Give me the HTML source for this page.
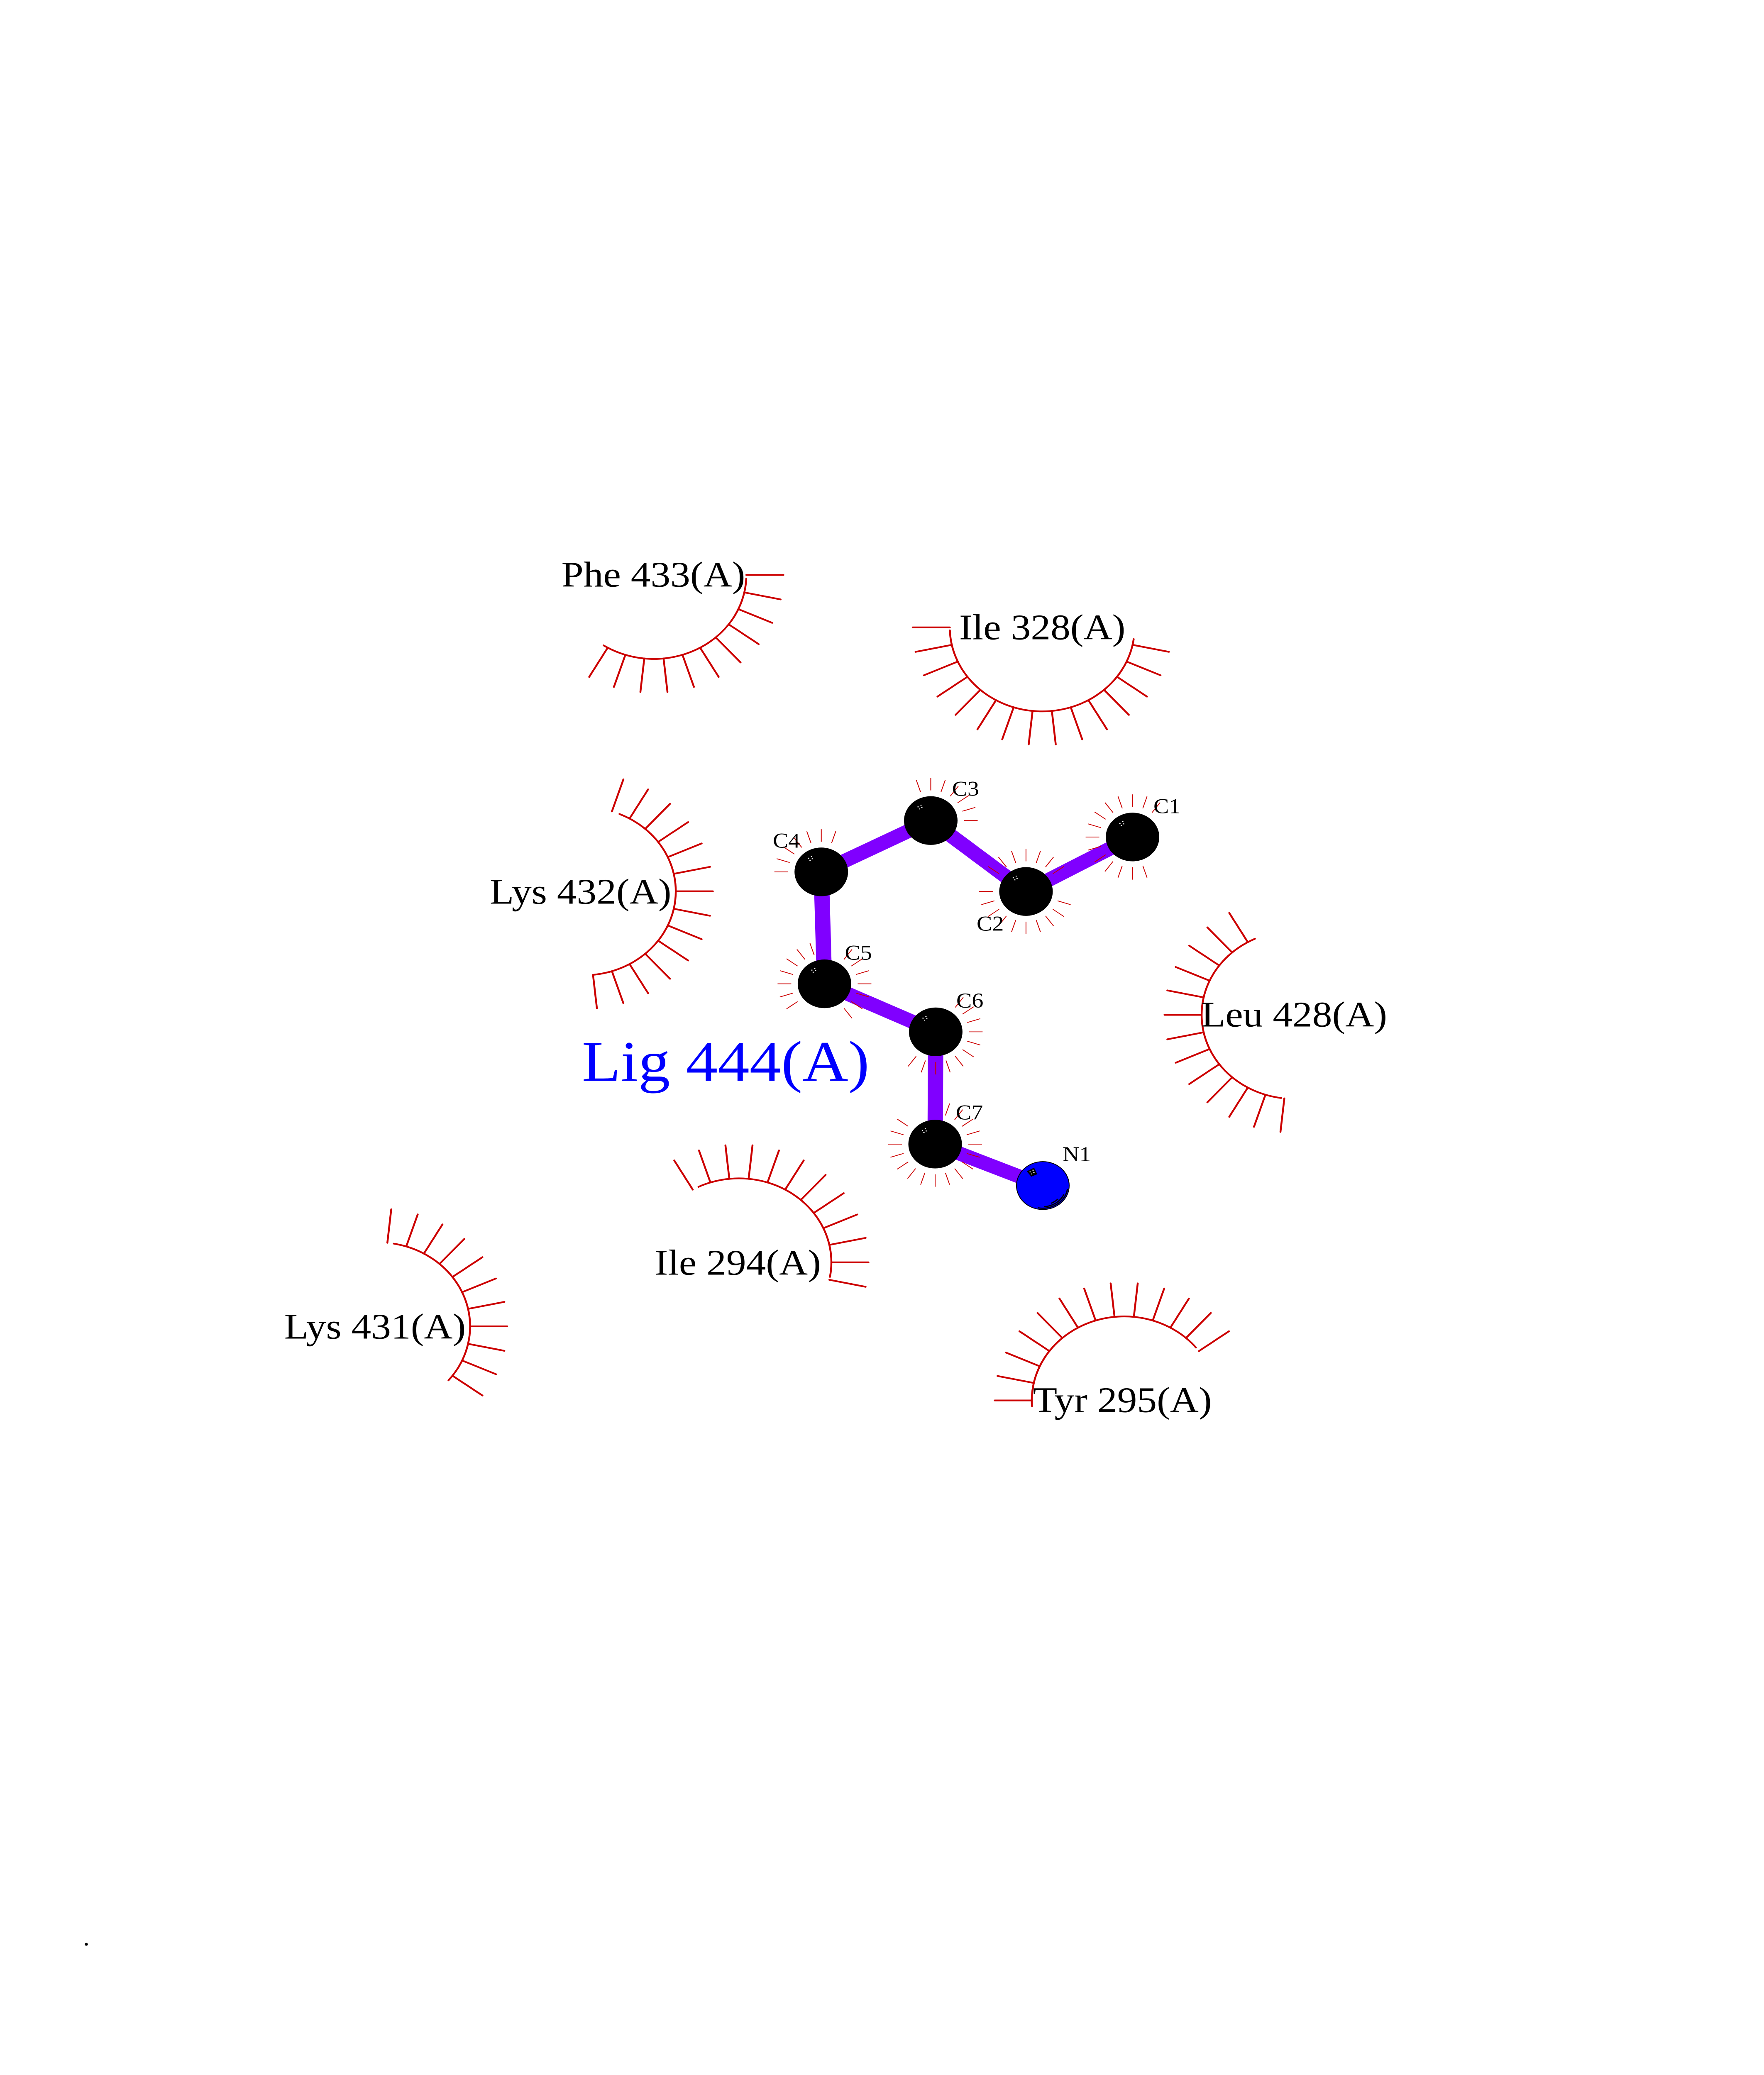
<!DOCTYPE html>
<html>
<head>
<meta charset="utf-8">
<title>Lig 444(A)</title>
<style>
html,body{margin:0;padding:0;background:#fff;height:100%;overflow:hidden}
svg{display:block;position:fixed;left:0;top:0;width:100vw;height:100vh;overflow:hidden}
text{font-family:"Liberation Serif",serif;fill:#000}
.res{font-size:95.5px}
.atm{font-size:56px}
.s{stroke:#cc0000;stroke-width:4.5;stroke-linecap:round;fill:none}
.r{stroke:#cc0000;stroke-width:2;fill:none}
</style>
</head>
<body>
<svg xmlns="http://www.w3.org/2000/svg" viewBox="0 0 4250 5500" preserveAspectRatio="none">
<defs>
<path id="sp" d="M222.6 0H312"/>
<path id="ry" d="M80 0H113"/>
<g id="dots" fill="#fff"><rect x="-32" y="-37.5" width="3" height="2.4"/><rect x="-25" y="-42" width="3" height="2.4"/><rect x="-23" y="-36" width="3" height="2.4"/><rect x="-28.5" y="-32" width="3" height="2.4"/></g>
</defs>

<!-- bonds -->
<g stroke="#8000ff" stroke-width="37" fill="none">
<path d="M2728.6 2218.6L2471.9 2363L2242.5 2175L1978.7 2311L1986.4 2607.7L2254.4 2735L2253 3032.6L2512.5 3142.5" stroke-linejoin="bevel"/>
</g>

<!-- residue arcs -->
<g class="s">
<path d="M1492.5 2157.6A222.6 222.6 0 0 1 1428.8 2583.9"/>
<g transform="translate(1405.5 2362.5)"><use href="#sp" transform="rotate(-72)"/><use href="#sp" transform="rotate(-60)"/><use href="#sp" transform="rotate(-48)"/><use href="#sp" transform="rotate(-36)"/><use href="#sp" transform="rotate(-24)"/><use href="#sp" transform="rotate(-12)"/><use href="#sp"/><use href="#sp" transform="rotate(12)"/><use href="#sp" transform="rotate(24)"/><use href="#sp" transform="rotate(36)"/><use href="#sp" transform="rotate(48)"/><use href="#sp" transform="rotate(60)"/><use href="#sp" transform="rotate(72)"/><use href="#sp" transform="rotate(84)"/></g>

<path d="M3086.6 2910.4A222.6 222.6 0 0 1 3023.5 2488.3"/>
<g transform="translate(3117.6 2690)"><use href="#sp" transform="rotate(96)"/><use href="#sp" transform="rotate(108)"/><use href="#sp" transform="rotate(120)"/><use href="#sp" transform="rotate(132)"/><use href="#sp" transform="rotate(144)"/><use href="#sp" transform="rotate(156)"/><use href="#sp" transform="rotate(168)"/><use href="#sp" transform="rotate(180)"/><use href="#sp" transform="rotate(192)"/><use href="#sp" transform="rotate(204)"/><use href="#sp" transform="rotate(216)"/><use href="#sp" transform="rotate(228)"/><use href="#sp" transform="rotate(240)"/></g>

<path d="M1797.9 1533.7A222.6 222.6 0 0 1 1454.3 1710.7"/>
<g transform="translate(1575.5 1524)"><use href="#sp"/><use href="#sp" transform="rotate(12)"/><use href="#sp" transform="rotate(24)"/><use href="#sp" transform="rotate(36)"/><use href="#sp" transform="rotate(48)"/><use href="#sp" transform="rotate(60)"/><use href="#sp" transform="rotate(72)"/><use href="#sp" transform="rotate(84)"/><use href="#sp" transform="rotate(96)"/><use href="#sp" transform="rotate(108)"/><use href="#sp" transform="rotate(120)"/></g>

<path d="M2731.4 1694A222.6 222.6 0 0 1 2288.5 1670.8"/>
<g transform="translate(2511 1663)"><use href="#sp" transform="rotate(12)"/><use href="#sp" transform="rotate(24)"/><use href="#sp" transform="rotate(36)"/><use href="#sp" transform="rotate(48)"/><use href="#sp" transform="rotate(60)"/><use href="#sp" transform="rotate(72)"/><use href="#sp" transform="rotate(84)"/><use href="#sp" transform="rotate(96)"/><use href="#sp" transform="rotate(108)"/><use href="#sp" transform="rotate(120)"/><use href="#sp" transform="rotate(132)"/><use href="#sp" transform="rotate(144)"/><use href="#sp" transform="rotate(156)"/><use href="#sp" transform="rotate(168)"/><use href="#sp" transform="rotate(180)"/></g>

<path d="M948.7 3296.4A222.6 222.6 0 0 1 1080.5 3658.7"/>
<g transform="translate(910 3515.6)"><use href="#sp" transform="rotate(-84)"/><use href="#sp" transform="rotate(-72)"/><use href="#sp" transform="rotate(-60)"/><use href="#sp" transform="rotate(-48)"/><use href="#sp" transform="rotate(-36)"/><use href="#sp" transform="rotate(-24)"/><use href="#sp" transform="rotate(-12)"/><use href="#sp"/><use href="#sp" transform="rotate(12)"/><use href="#sp" transform="rotate(24)"/><use href="#sp" transform="rotate(36)"/></g>

<path d="M1682.8 3145.9A222.6 222.6 0 0 1 1999.6 3384.7"/>
<g transform="translate(1780.4 3346)"><use href="#sp" transform="rotate(-120)"/><use href="#sp" transform="rotate(-108)"/><use href="#sp" transform="rotate(-96)"/><use href="#sp" transform="rotate(-84)"/><use href="#sp" transform="rotate(-72)"/><use href="#sp" transform="rotate(-60)"/><use href="#sp" transform="rotate(-48)"/><use href="#sp" transform="rotate(-36)"/><use href="#sp" transform="rotate(-24)"/><use href="#sp" transform="rotate(-12)"/><use href="#sp"/><use href="#sp" transform="rotate(12)"/></g>

<path d="M2486.4 3727.5A222.6 222.6 0 0 1 2881.5 3571.9"/>
<g transform="translate(2708.5 3712)"><use href="#sp" transform="rotate(180)"/><use href="#sp" transform="rotate(192)"/><use href="#sp" transform="rotate(204)"/><use href="#sp" transform="rotate(216)"/><use href="#sp" transform="rotate(228)"/><use href="#sp" transform="rotate(240)"/><use href="#sp" transform="rotate(252)"/><use href="#sp" transform="rotate(264)"/><use href="#sp" transform="rotate(276)"/><use href="#sp" transform="rotate(288)"/><use href="#sp" transform="rotate(300)"/><use href="#sp" transform="rotate(312)"/><use href="#sp" transform="rotate(324)"/></g>
</g>

<!-- atom hydrophobic rays -->
<g class="r">
<g transform="translate(2242.5 2175)"><use href="#ry"/><use href="#ry" transform="rotate(-18)"/><use href="#ry" transform="rotate(-36)"/><use href="#ry" transform="rotate(-54)"/><use href="#ry" transform="rotate(-72)"/><use href="#ry" transform="rotate(-90)"/><use href="#ry" transform="rotate(-108)"/></g>

<g transform="translate(2728.6 2218.6)"><use href="#ry" transform="rotate(-54)"/><use href="#ry" transform="rotate(-72)"/><use href="#ry" transform="rotate(-90)"/><use href="#ry" transform="rotate(-108)"/><use href="#ry" transform="rotate(-126)"/><use href="#ry" transform="rotate(-144)"/><use href="#ry" transform="rotate(-162)"/><use href="#ry" transform="rotate(-180)"/><use href="#ry" transform="rotate(-198)"/><use href="#ry" transform="rotate(-216)"/><use href="#ry" transform="rotate(-234)"/><use href="#ry" transform="rotate(-252)"/><use href="#ry" transform="rotate(-270)"/><use href="#ry" transform="rotate(-288)"/></g>

<g transform="translate(2471.9 2363)"><use href="#ry" transform="rotate(-36)"/><use href="#ry" transform="rotate(-54)"/><use href="#ry" transform="rotate(-72)"/><use href="#ry" transform="rotate(-90)"/><use href="#ry" transform="rotate(-108)"/><use href="#ry" transform="rotate(-126)"/><use href="#ry" transform="rotate(-144)"/><use href="#ry" transform="rotate(-180)"/><use href="#ry" transform="rotate(-198)"/><use href="#ry" transform="rotate(-216)"/><use href="#ry" transform="rotate(-234)"/><use href="#ry" transform="rotate(-252)"/><use href="#ry" transform="rotate(-270)"/><use href="#ry" transform="rotate(-288)"/><use href="#ry" transform="rotate(-306)"/><use href="#ry" transform="rotate(-324)"/><use href="#ry" transform="rotate(-342)"/></g>

<g transform="translate(1978.7 2311)"><use href="#ry" transform="rotate(-72)"/><use href="#ry" transform="rotate(-90)"/><use href="#ry" transform="rotate(-108)"/><use href="#ry" transform="rotate(-126)"/><use href="#ry" transform="rotate(-144)"/><use href="#ry" transform="rotate(-162)"/><use href="#ry" transform="rotate(-180)"/></g>

<g transform="translate(1986.4 2607.7)"><use href="#ry" transform="rotate(-108)"/><use href="#ry" transform="rotate(-126)"/><use href="#ry" transform="rotate(-144)"/><use href="#ry" transform="rotate(-162)"/><use href="#ry" transform="rotate(-180)"/><use href="#ry" transform="rotate(-198)"/><use href="#ry" transform="rotate(-216)"/><use href="#ry" transform="rotate(54)"/><use href="#ry" transform="rotate(36)"/><use href="#ry" transform="rotate(18)"/><use href="#ry"/><use href="#ry" transform="rotate(-18)"/><use href="#ry" transform="rotate(-36)"/><use href="#ry" transform="rotate(-54)"/></g>

<g transform="translate(2254.4 2735)"><use href="#ry" transform="rotate(126)"/><use href="#ry" transform="rotate(108)"/><use href="#ry" transform="rotate(90)"/><use href="#ry" transform="rotate(72)"/><use href="#ry" transform="rotate(54)"/><use href="#ry" transform="rotate(36)"/><use href="#ry" transform="rotate(18)"/><use href="#ry"/><use href="#ry" transform="rotate(-18)"/><use href="#ry" transform="rotate(-36)"/><use href="#ry" transform="rotate(-54)"/></g>

<g transform="translate(2253 3032.6)"><use href="#ry" transform="rotate(-144)"/><use href="#ry" transform="rotate(-162)"/><use href="#ry" transform="rotate(-180)"/><use href="#ry" transform="rotate(-198)"/><use href="#ry" transform="rotate(-216)"/><use href="#ry" transform="rotate(-234)"/><use href="#ry" transform="rotate(-252)"/><use href="#ry" transform="rotate(-270)"/><use href="#ry" transform="rotate(-288)"/><use href="#ry" transform="rotate(-306)"/><use href="#ry" transform="rotate(-324)"/><use href="#ry" transform="rotate(-342)"/><use href="#ry"/><use href="#ry" transform="rotate(-18)"/><use href="#ry" transform="rotate(-36)"/><use href="#ry" transform="rotate(-54)"/><use href="#ry" transform="rotate(-72)"/></g>
</g>

<!-- atoms -->
<g fill="#000">
<circle cx="2728.6" cy="2218.6" r="64.5"/>
<circle cx="2471.9" cy="2363" r="64.5"/>
<circle cx="2242.5" cy="2175" r="64.5"/>
<circle cx="1978.7" cy="2311" r="64.5"/>
<circle cx="1986.4" cy="2607.7" r="64.5"/>
<circle cx="2254.4" cy="2735" r="64.5"/>
<circle cx="2253" cy="3032.6" r="64.5"/>
</g>
<circle cx="2512.5" cy="3142.5" r="63.5" fill="#0000ff" stroke="#000" stroke-width="2"/>
<path d="M2571.6 3153A60 60 0 0 1 2502 3201.6" fill="none" stroke="#000" stroke-width="3" stroke-linecap="round"/>
<path d="M2562.7 3166.8A56 56 0 0 1 2516.7 3198.4" fill="none" stroke="#000" stroke-width="3" stroke-linecap="round"/>
<path d="M2548.2 3178.9A51 51 0 0 1 2533.3 3189" fill="none" stroke="#000" stroke-width="3" stroke-linecap="round"/>
<path d="M2475 3105L2491 3096L2498 3112L2485 3118Z" fill="#000" stroke="#000" stroke-width="1.5" stroke-linejoin="round"/>

<use href="#dots" transform="translate(2728.6 2218.6)"/>
<use href="#dots" transform="translate(2471.9 2363)"/>
<use href="#dots" transform="translate(2242.5 2175)"/>
<use href="#dots" transform="translate(1978.7 2311)"/>
<use href="#dots" transform="translate(1986.4 2607.7)"/>
<use href="#dots" transform="translate(2254.4 2735)"/>
<use href="#dots" transform="translate(2253 3032.6)"/>
<use href="#dots" transform="translate(2512.5 3142.5)"/>

<!-- labels -->
<text class="atm" x="2779" y="2155.7">C1</text>
<text class="atm" x="2353" y="2466.6">C2</text>
<text class="atm" x="2293.7" y="2109.5">C3</text>
<text class="atm" x="1862" y="2246.6">C4</text>
<text class="atm" x="2035.5" y="2544">C5</text>
<text class="atm" x="2304" y="2671">C6</text>
<text class="atm" x="2303" y="2967">C7</text>
<text class="atm" x="2560" y="3078">N1</text>

<text class="res" x="1352.6" y="1555">Phe 433(A)</text>
<text class="res" x="2311" y="1694.6">Ile 328(A)</text>
<text class="res" x="1180" y="2395">Lys 432(A)</text>
<text class="res" x="2894" y="2721">Leu 428(A)</text>
<text class="res" x="1577.5" y="3378.6">Ile 294(A)</text>
<text class="res" x="684.7" y="3548">Lys 431(A)</text>
<text class="res" x="2488.8" y="3743">Tyr 295(A)</text>

<text x="1402" y="2865" style="font-size:153px;fill:#0000ff">Lig 444(A)</text>
<text x="200" y="5156" style="font-size:64px">.</text>
</svg>
</body>
</html>
